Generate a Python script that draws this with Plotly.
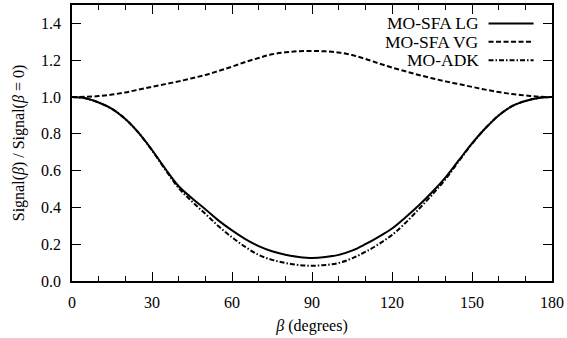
import plotly.graph_objects as go

# Angle between molecular axis and laser polarization (degrees)
beta = list(range(0, 181, 5))

# Normalized ionization signal for each model
mo_sfa_lg = [1.0, 0.993, 0.97, 0.935, 0.88, 0.805, 0.712, 0.61, 0.515, 0.45,
             0.39, 0.328, 0.275, 0.228, 0.19, 0.162, 0.143, 0.131, 0.125,
             0.13, 0.142, 0.165, 0.2, 0.24, 0.285, 0.345, 0.41, 0.482, 0.562,
             0.655, 0.748, 0.83, 0.9, 0.95, 0.978, 0.995, 1.0]
mo_sfa_vg = [1.0, 1.001, 1.005, 1.013, 1.025, 1.04, 1.055, 1.07, 1.085, 1.102,
             1.12, 1.142, 1.165, 1.19, 1.212, 1.232, 1.243, 1.249, 1.25,
             1.248, 1.242, 1.228, 1.207, 1.183, 1.16, 1.14, 1.12, 1.102, 1.085,
             1.07, 1.055, 1.04, 1.027, 1.016, 1.008, 1.002, 1.0]
mo_adk = [1.0, 0.993, 0.97, 0.935, 0.88, 0.805, 0.71, 0.605, 0.505, 0.432,
          0.365, 0.297, 0.237, 0.185, 0.142, 0.115, 0.098, 0.087, 0.083,
          0.087, 0.098, 0.123, 0.158, 0.2, 0.25, 0.315, 0.39, 0.468, 0.552,
          0.65, 0.745, 0.83, 0.9, 0.95, 0.978, 0.995, 1.0]

names = ["MO-SFA LG", "MO-SFA VG", "MO-ADK"]
dashes = ["solid", "5px,2.5px", "5px,2px,1.5px,2px"]
series = [mo_sfa_lg, mo_sfa_vg, mo_adk]

FONT = "Liberation Serif"
tick_font = dict(family=FONT, size=16, color="black")
title_font = dict(family=FONT, size=16, color="black")

fig = go.Figure()
for name, ys, dash in zip(names, series, dashes):
    fig.add_trace(go.Scatter(
        x=beta, y=ys, mode="lines", name=name,
        line=dict(color="black", width=2, dash=dash, shape="spline", smoothing=1.0),
        showlegend=False,
    ))

# Legend drawn inside the frame: right-aligned label followed by a line sample
legend_rows = [1.4, 1.3, 1.2]
for name, dash, yrow in zip(names, dashes, legend_rows):
    fig.add_annotation(x=153.2, y=yrow, xref="x", yref="y", text=name,
                       showarrow=False, xanchor="right", yanchor="middle",
                       font=dict(family=FONT, size=17.5, color="black"))
    fig.add_shape(type="line", xref="x", yref="y", x0=156.2, x1=173.1, y0=yrow, y1=yrow,
                  line=dict(color="black", width=2, dash=dash))

fig.update_layout(
    template="none",
    width=567, height=338,
    margin=dict(l=72, r=15, t=5, b=57),
    paper_bgcolor="white", plot_bgcolor="white",
    font=dict(family=FONT, size=16, color="black"),
    xaxis=dict(
        range=[0, 180], tickmode="array", tickvals=[0, 30, 60, 90, 120, 150, 180],
        showline=True, linecolor="black", linewidth=1.5, mirror="ticks",
        ticks="inside", tickcolor="black", tickwidth=1.2, ticklen=9,
        minor=dict(dtick=10, ticks="inside", ticklen=5, tickcolor="black", tickwidth=1.2),
        showgrid=False, zeroline=False,
        tickfont=tick_font, ticklabelstandoff=6,
        title=dict(text="<i>β</i> (degrees)", font=title_font, standoff=10),
    ),
    yaxis=dict(
        range=[0, 1.5], tickmode="array", tickvals=[0, 0.2, 0.4, 0.6, 0.8, 1.0, 1.2, 1.4],
        tickformat=".1f",
        showline=True, linecolor="black", linewidth=1.5, mirror="ticks",
        ticks="inside", tickcolor="black", tickwidth=1.2, ticklen=9,
        showgrid=False, zeroline=False,
        tickfont=tick_font, ticklabelstandoff=6,
        title=dict(text="Signal(<i>β</i>) / Signal(<i>β</i> = 0)", font=title_font, standoff=12),
    ),
)

fig.write_html("out.html")
